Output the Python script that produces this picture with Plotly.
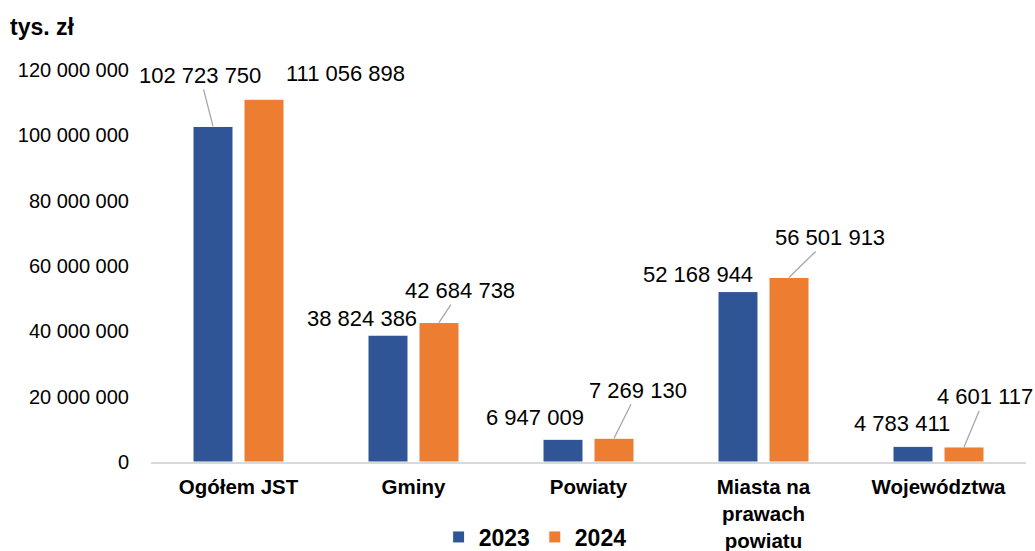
import plotly.graph_objects as go

categories = ["Ogółem JST", "Gminy", "Powiaty", "Miasta na<br>prawach<br>powiatu", "Województwa"]
series_names = ["2023", "2024"]
values_2023 = [102723750, 38824386, 6947009, 52168944, 4783411]
values_2024 = [111056898, 42684738, 7269130, 56501913, 4601117]
y_ticks = [0, 20000000, 40000000, 60000000, 80000000, 100000000, 120000000]

colors = {"2023": "#2F5597", "2024": "#ED7D31"}

# label offsets (px) from bar top: (ax, ay, show leader line)
offsets_2023 = [(-13, -51, True), (-26, -17, False), (-28, -22, False), (-40, -17, False), (-11, -23, False)]
offsets_2024 = [(81, -26, False), (21, -32, True), (24, -48, True), (41, -40, True), (21, -50, True)]

FONT = "Liberation Sans, Arial, sans-serif"

fig = go.Figure()
for name, vals in zip(series_names, [values_2023, values_2024]):
    fig.add_trace(go.Bar(
        x=categories, y=vals, name=name,
        marker=dict(color=colors[name], line=dict(color="white", width=1)),
    ))

def fmt(v):
    return f"{v:,}".replace(",", " ")

bar_shift = 25.5
for vals, offs, sh in [(values_2023, offsets_2023, -bar_shift), (values_2024, offsets_2024, bar_shift)]:
    for cat, v, (ax, ay, line) in zip(categories, vals, offs):
        fig.add_annotation(
            x=cat, y=v, xref="x", yref="y", xshift=sh,
            text=fmt(v), showarrow=True, arrowhead=0, arrowwidth=1.3,
            arrowcolor="#A6A6A6" if line else "rgba(0,0,0,0)",
            ax=ax, ay=ay, standoff=0,
            font=dict(family=FONT, size=22, color="#000000"),
        )

fig.update_layout(
    width=1035, height=551,
    margin=dict(l=151, r=9, t=70, b=89),
    plot_bgcolor="white", paper_bgcolor="white",
    barmode="group", bargap=0.417, bargroupgap=0.216,
    separators=", ",
    font=dict(family=FONT, color="#000000"),
    title=dict(text="<b>tys. zł</b>", x=10 / 1035, xref="container", xanchor="left",
               y=1 - 27 / 551, yref="container", yanchor="middle",
               font=dict(family=FONT, size=23, color="#000000")),
    legend=dict(orientation="h", x=0.439, xanchor="center", xref="paper",
                y=14 / 551, yref="container", yanchor="middle",
                font=dict(family=FONT, size=23, color="#000000", weight="bold"),
                itemwidth=30, traceorder="normal"),
    showlegend=True,
)
fig.update_xaxes(
    range=[-0.5, 4.5], autorange=False,
    showline=True, linecolor="#D9D9D9", linewidth=1.5, ticks="",
    tickfont=dict(family=FONT, size=20.5, color="#000000", weight="bold"),
    ticklabelstandoff=6, automargin=False,
)
fig.update_yaxes(
    range=[0, 120000000], autorange=False, tickvals=y_ticks, tickformat=",d",
    showgrid=False, zeroline=False, showline=False, ticks="",
    tickfont=dict(family=FONT, size=20, color="#000000"),
    ticklabelstandoff=21, automargin=False,
)

fig.write_html("out.html", config={"displayModeBar": False},
               post_script="document.body.style.margin='0';document.body.style.overflow='hidden';")
